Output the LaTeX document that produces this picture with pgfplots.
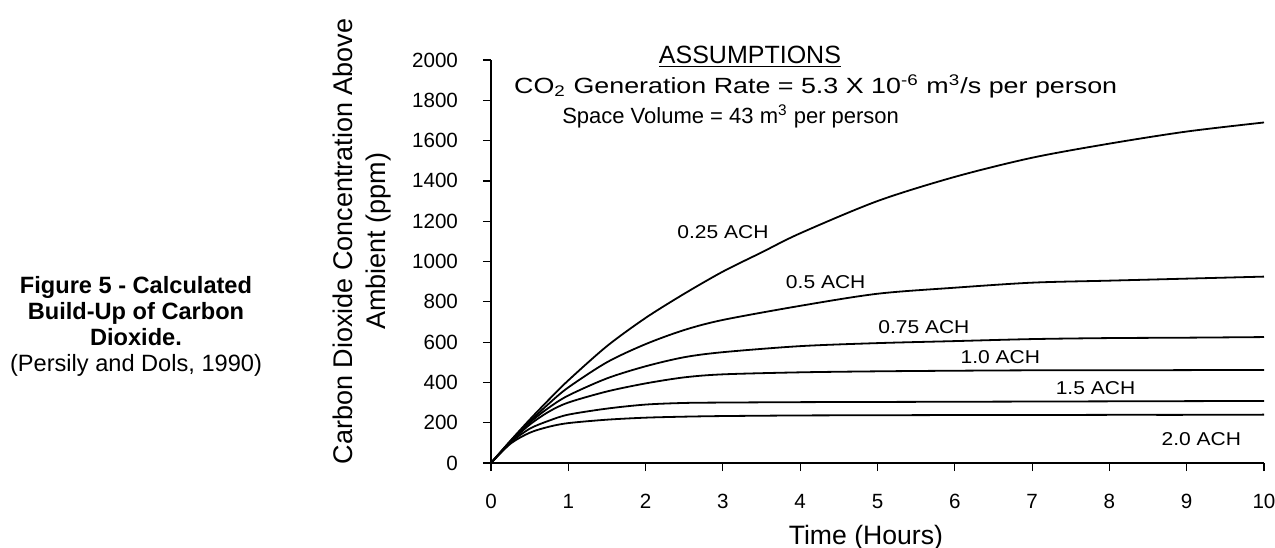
\documentclass[border=0pt]{standalone}
\usepackage{fontspec}
\setmainfont{Liberation Sans}
\usepackage{pgfplots}
\pgfplotsset{compat=1.18}
\tikzset{achlabel/.style={font=\fontsize{9.3}{11}\selectfont, xscale=1.13, transform shape}}
\begin{document}
\begin{tikzpicture}
\path[use as bounding box] (-245.5pt,-42pt) rectangle (392pt,231.5pt);
\begin{axis}[
  at={(0,0)}, anchor=south west,
  scale only axis, width=386.5pt, height=201.5pt,
  xmin=0, xmax=10, ymin=0, ymax=2000,
  axis lines=left, axis line style={-, line width=0.8pt},
  xtick={0,1,...,10}, ytick={0,200,...,2000},
  tick align=outside, major tick length=4pt,
  tick style={black, line width=0.6pt},
  /pgf/number format/assume math mode=true,
  /pgf/number format/set thousands separator={},
  ticklabel style={font=\fontsize{10.3}{12}\selectfont},
  xticklabel style={yshift=-8pt},
  yticklabel style={xshift=-9pt},
  clip=false,
  xlabel={Time (Hours)},
  xlabel style={at={(axis description cs:0.485,-0.184)}, anchor=center, font=\fontsize{13.3}{15}\selectfont},
  ylabel={Carbon Dioxide Concentration Above\\Ambient (ppm)},
  ylabel style={at={(axis description cs:-0.1675,0.55)}, anchor=center, align=center, font=\fontsize{13.5}{16.5}\selectfont},
]
% 0.25 ACH
\addplot[black, line width=0.9pt, smooth] coordinates {(0,0) (0.25,110) (0.5,215) (0.75,315) (1,410) (1.5,580) (2,720) (2.5,840) (3,950) (3.5,1045) (4,1140) (5,1300) (6,1420) (7,1515) (8,1585) (9,1645) (10,1690)};
% 0.5 ACH
\addplot[black, line width=0.9pt, smooth] coordinates {(0,0) (0.25,108) (0.5,205) (0.75,295) (1,375) (1.5,500) (2,590) (2.5,660) (3,710) (4,780) (5,840) (6,870) (7,895) (8,905) (9,915) (10,925)};
% 0.75 ACH
\addplot[black, line width=0.9pt, smooth] coordinates {(0,0) (0.25,105) (0.5,200) (0.75,275) (1,335) (1.5,420) (2,480) (2.5,525) (3,550) (4,580) (5,595) (6,605) (7,615) (8,620) (9,622) (10,625)};
% 1.0 ACH
\addplot[black, line width=0.9pt, smooth] coordinates {(0,0) (0.25,103) (0.5,190) (0.75,255) (1,300) (1.5,355) (2,395) (2.5,425) (3,440) (4,450) (5,455) (6,458) (7,460) (8,460) (9,461) (10,462)};
% 1.5 ACH
\addplot[black, line width=0.9pt, smooth] coordinates {(0,0) (0.25,100) (0.5,170) (0.75,210) (1,240) (1.5,270) (2,290) (2.5,298) (3,300) (4,302) (5,303) (6,304) (7,305) (8,306) (9,307) (10,308)};
% 2.0 ACH
\addplot[black, line width=0.9pt, smooth] coordinates {(0,0) (0.25,95) (0.5,150) (0.75,180) (1,198) (1.5,215) (2,225) (2.5,230) (3,233) (4,236) (5,237) (6,238) (7,238) (8,239) (9,239) (10,240)};

\node[achlabel] at (axis cs:3.0,1146) {0.25 ACH};
\node[achlabel] at (axis cs:4.33,898) {0.5 ACH};
\node[achlabel] at (axis cs:5.6,675) {0.75 ACH};
\node[achlabel] at (axis cs:6.59,526) {1.0 ACH};
\node[achlabel] at (axis cs:7.82,372) {1.5 ACH};
\node[achlabel] at (axis cs:9.19,119) {2.0 ACH};

\node[font=\fontsize{12.5}{13}\selectfont, inner sep=0pt] at (axis cs:3.35,2015) {\underline{ASSUMPTIONS}};
\node[font=\fontsize{11}{12}\selectfont, inner sep=0pt, xscale=1.22, transform shape] at (axis cs:4.2,1868) {CO\textsubscript{2} Generation Rate = 5.3 X 10\textsuperscript{-6} m\textsuperscript{3}/s per person};
\node[font=\fontsize{11}{12}\selectfont, inner sep=0pt] at (axis cs:3.1,1720) {Space Volume = 43 m\textsuperscript{3} per person};
\end{axis}
\node[align=center, font=\fontsize{11.8}{13}\selectfont] at (-177.5pt,68.5pt)
  {\textbf{Figure 5 - Calculated}\\\textbf{Build-Up of Carbon}\\\textbf{Dioxide.}\\(Persily and Dols, 1990)};
\end{tikzpicture}
\end{document}
